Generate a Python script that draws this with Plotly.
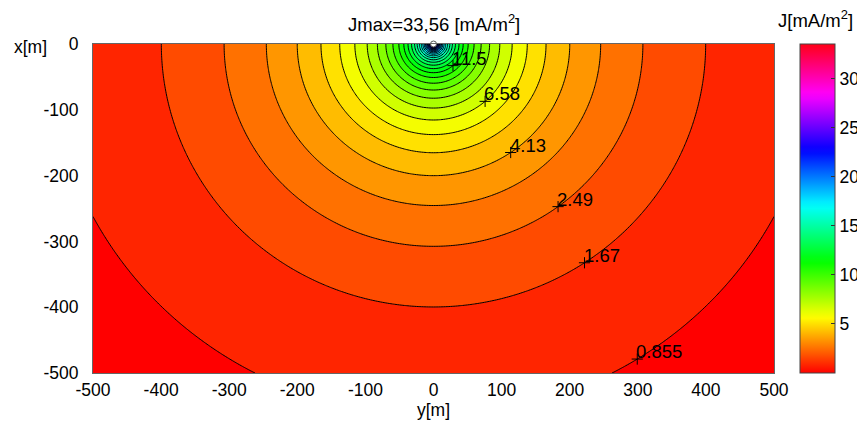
import colorsys
import numpy as np
import plotly.graph_objects as go

# ---- field description -------------------------------------------------
J_MAX = 33.56            # peak surface current density at the injection point [mA/m^2]
J_MIN = 0.037            # lowest value of the contour scale [mA/m^2]
N_STEPS = 41             # contour spacing = (J_MAX - J_MIN) / N_STEPS

# radial decay law J(r) = J_MAX * (1 + r/a)^-p * exp(-r/L)
CORE_RADIUS = 3.0        # a [m]
DECAY_POWER = 0.3375     # p
DECAY_LENGTH = 297.0     # L [m]

# plotted area (horizontal: y, vertical: x)
y_limits = [-500, 500]
x_limits = [-500, 0]
y_ticks = [-500, -400, -300, -200, -100, 0, 100, 200, 300, 400, 500]
x_ticks = [0, -100, -200, -300, -400, -500]
cbar_ticks = [5, 10, 15, 20, 25, 30]

# labelled contour levels (index into the level list) and the bearing of each label
label_level_index = [14, 8, 5, 3, 2, 1]
label_bearing_deg = [41.0, 41.0, 34.5, 36.5, 33.7, 32.0]

FONT = "Liberation Sans, Arial, Helvetica, sans-serif"
FS = 18.5
TICK_FS = 17.5


def current_density(r):
    return J_MAX * (1.0 + r / CORE_RADIUS) ** (-DECAY_POWER) * np.exp(-r / DECAY_LENGTH)


def radius_of(level):
    lo, hi = 0.0, 2000.0
    for _ in range(80):
        mid = 0.5 * (lo + hi)
        if current_density(mid) > level:
            lo = mid
        else:
            hi = mid
    return 0.5 * (lo + hi)


# ---- grid ---------------------------------------------------------------
ys = np.linspace(y_limits[0], y_limits[1], 401)
xs = np.linspace(x_limits[0], x_limits[1], 201)
YY, XX = np.meshgrid(ys, xs)
J = current_density(np.hypot(YY, XX))

levels = np.linspace(J_MIN, J_MAX, N_STEPS + 1)[1:-1]
step = (J_MAX - J_MIN) / N_STEPS

# MATLAB-like hsv colour map
hsv_scale = []
for t in np.linspace(0, 1, 49):
    r, g, b = colorsys.hsv_to_rgb(t * 0.985, 1.0, 1.0)
    hsv_scale.append([float(t), f"rgb({int(r*255)},{int(g*255)},{int(b*255)})"])

fig = go.Figure()

fig.add_trace(go.Contour(
    x=ys, y=xs, z=J,
    autocontour=False,
    contours=dict(start=float(levels[0]), end=float(levels[-1]), size=step,
                  coloring="fill"),
    colorscale=hsv_scale,
    line=dict(color="black", width=1),
    showscale=False,
    hoverinfo="skip",
))

# continuous colour bar
fig.add_trace(go.Scatter(
    x=[0], y=[-250], mode="markers",
    marker=dict(size=1, opacity=0, color=[0], colorscale=hsv_scale,
                cmin=0, cmax=J_MAX, showscale=True,
                colorbar=dict(x=(800 - 93) / 681, xanchor="left", xpad=0,
                              y=0.5, yanchor="middle", len=1, lenmode="fraction",
                              ypad=0, thickness=35, outlinewidth=1,
                              outlinecolor="#444",
                              tickvals=cbar_ticks, ticktext=[str(v) for v in cbar_ticks],
                              ticks="inside", ticklen=4, tickcolor="#333",
                              tickfont=dict(family=FONT, size=TICK_FS, color="black"))),
    hoverinfo="skip", showlegend=False,
))

# contour labels with "+" markers
lab_y, lab_x, lab_txt = [], [], []
for idx, bearing in zip(label_level_index, label_bearing_deg):
    lev = levels[idx - 1]
    rad = radius_of(lev)
    th = np.deg2rad(bearing)
    lab_y.append(rad * np.sin(th))
    lab_x.append(-rad * np.cos(th))
    lab_txt.append(f"{lev:.3g}")

fig.add_trace(go.Scatter(
    x=lab_y, y=lab_x, mode="markers",
    marker=dict(symbol="cross-thin", size=8, line=dict(color="black", width=1)),
    hoverinfo="skip", showlegend=False,
))

annotations = []
for yv, xv, t in zip(lab_y, lab_x, lab_txt):
    annotations.append(dict(x=yv, y=xv, xref="x", yref="y", text=t, showarrow=False,
                            xanchor="left", yanchor="bottom", xshift=-3, yshift=-5,
                            font=dict(family=FONT, size=FS, color="black")))

# injection point
fig.add_trace(go.Scatter(
    x=[0], y=[0], mode="markers", cliponaxis=False,
    marker=dict(symbol="circle", size=6, color="white", line=dict(color="#555", width=1)),
    hoverinfo="skip", showlegend=False,
))

peak_txt = f"{J_MAX:.2f}".replace(".", ",")
annotations += [
    dict(x=0, y=1 + 21 / 329, xref="x", yref="paper", text=f"Jmax={peak_txt} [mA/m<sup>2</sup>]",
         showarrow=False, xanchor="center", yanchor="middle",
         font=dict(family=FONT, size=FS, color="black")),
    dict(x=0, y=-37 / 329, xref="x", yref="paper", text="y[m]", showarrow=False,
         xanchor="center", yanchor="middle", font=dict(family=FONT, size=TICK_FS, color="black")),
    dict(x=(30 - 93) / 681, y=1 - 3 / 329, xref="paper", yref="paper", text="x[m]",
         showarrow=False, xanchor="center", yanchor="middle",
         font=dict(family=FONT, size=TICK_FS, color="black")),
    dict(x=(815 - 93) / 681, y=1 + 25 / 329, xref="paper", yref="paper",
         text="J[mA/m<sup>2</sup>]", showarrow=False, xanchor="center", yanchor="middle",
         font=dict(family=FONT, size=FS, color="black")),
]

fig.update_layout(
    width=857, height=421,
    margin=dict(l=93, r=83, t=44, b=48, autoexpand=False),
    paper_bgcolor="white", plot_bgcolor="white",
    font=dict(family=FONT, size=FS, color="black"),
    showlegend=False,
    annotations=annotations,
    xaxis=dict(range=y_limits, tickvals=y_ticks, ticktext=[str(v) for v in y_ticks],
               tickfont=dict(size=TICK_FS),
               showgrid=False, zeroline=False, showline=True, mirror=True,
               linecolor="#666", linewidth=1, ticks="", ticklabelstandoff=1),
    yaxis=dict(range=x_limits, tickvals=x_ticks, ticktext=[str(v) for v in x_ticks],
               tickfont=dict(size=TICK_FS),
               showgrid=False, zeroline=False, showline=True, mirror=True,
               linecolor="#666", linewidth=1, ticks="", ticklabelstandoff=10),
)

fig.write_html("out.html")
